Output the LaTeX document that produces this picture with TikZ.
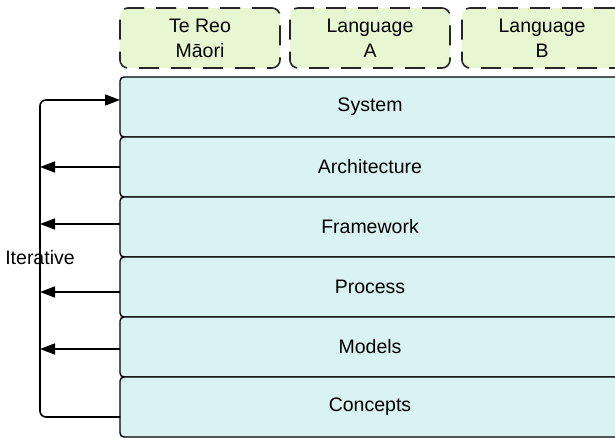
\documentclass[tikz,border=0pt]{standalone}
\usepackage{fontspec}
\setmainfont{Liberation Sans}
\usetikzlibrary{positioning}
\usetikzlibrary{arrows.meta}

\definecolor{layerfill}{RGB}{217,242,242}
\definecolor{langfill}{RGB}{231,247,209}

\tikzset{
  layer/.style={draw=black, line width=1.4pt, fill=layerfill, rounded corners=4pt,
    minimum width=500pt, minimum height=60pt, outer sep=0pt},
  lang/.style={draw=black!85, line width=1.6pt, dash pattern=on 20pt off 12pt,
    fill=langfill, rounded corners=8pt, minimum width=160pt, minimum height=60pt,
    outer sep=0pt, align=center, anchor=north west},
  iterline/.style={line width=1.6pt},
  tip/.style={-{Triangle[length=15pt,width=11pt]}}
}

\begin{document}
\begin{tikzpicture}[x=1pt,y=-1pt,font=\fontsize{19.5}{25}\selectfont]
        \clip (0,0) rectangle (615,438);

        % Languages on top
        \node [lang] (maori) at (120,8) {Te Reo\\Māori};
        \node [lang, right=10pt of maori.north east, anchor=north west] (langA) {Language\\A};
        \node [lang, right=12pt of langA.north east, anchor=north west] (langB) {Language\\B};

        % Layers
        \node [layer, anchor=north west] (system) at (120,77) {System};
        \node [layer, below=0pt of system] (arch) {Architecture};
        \node [layer, below=0pt of arch] (frame) {Framework};
        \node [layer, below=0pt of frame] (process) {Process};
        \node [layer, below=0pt of process] (models) {Models};
        \node [layer, below=0pt of models] (concepts) {Concepts};

        % Iterative loop
        \coordinate (looptop) at (40,100);
        \node (iter) at (40,258) {Iterative};
        \draw [iterline, tip, rounded corners=6pt] ([yshift=-10pt]concepts.west) -| (looptop)
              -- (looptop -| system.west);
        \draw [iterline, tip] (arch.west) -- (arch.west -| looptop);
        \draw [iterline, tip] ([yshift=3pt]frame.west) -- ([yshift=3pt]frame.west -| looptop);
        \draw [iterline, tip] ([yshift=-5pt]process.west) -- ([yshift=-5pt]process.west -| looptop);
        \draw [iterline, tip] ([yshift=-2pt]models.west) -- ([yshift=-2pt]models.west -| looptop);
\end{tikzpicture}
\end{document}
